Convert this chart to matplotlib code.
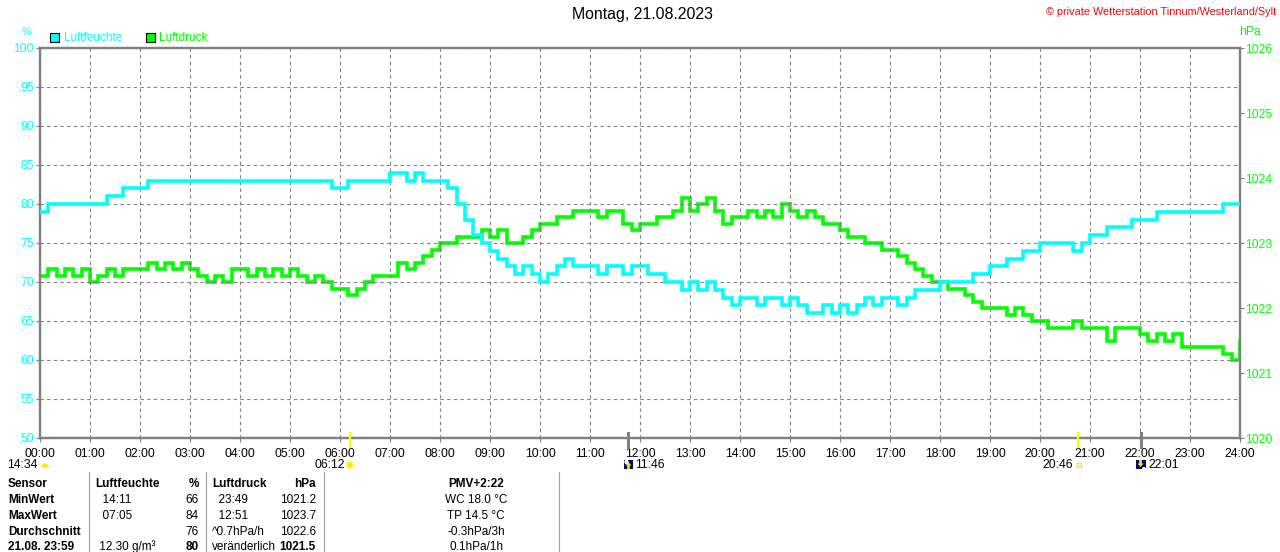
import numpy as np
import matplotlib
matplotlib.use('Agg')
import matplotlib.pyplot as plt
from matplotlib.patches import Rectangle, Circle, Wedge, Polygon

plt.rcParams['font.family'] = ['Liberation Sans', 'DejaVu Sans']

# ---------------- data ----------------
minutes = np.arange(0, 1441, 10)          # 10-minute time axis 00:00 .. 24:00
hours = minutes / 60.0

humidity = ([79] + [80]*7 + [81]*2 + [82]*3 + [83]*22 + [82, 82] + [83]*5 +
            [84, 84, 83, 84, 83, 83, 83] +
            [82, 80, 78, 76, 75, 74, 73, 72, 71, 72, 71] +
            [70, 71, 72, 73, 72, 72] +
            [72, 71, 72, 72, 71, 72] +
            [72, 71, 71, 70, 70, 69] +
            [70, 69, 70, 69, 68, 67] +
            [68, 68, 67, 68, 68, 67] +
            [68, 67, 66, 66, 67, 66] +
            [67, 66, 67, 68, 67, 68] +
            [68, 67, 68, 69, 69, 69] +
            [70, 70, 70, 70, 71, 71] +
            [72, 72, 73, 73, 74, 74] +
            [75, 75, 75, 75, 74, 75] +
            [76, 76, 77, 77, 77, 78] +
            [78, 78, 79, 79, 79, 79] +
            [79, 79, 79, 79, 80, 80, 80])

pressure = [1022.5, 1022.6, 1022.5, 1022.6, 1022.5, 1022.6,
            1022.4, 1022.5, 1022.6, 1022.5, 1022.6, 1022.6,
            1022.6, 1022.7, 1022.6, 1022.7, 1022.6, 1022.7,
            1022.6, 1022.5, 1022.4, 1022.5, 1022.4, 1022.6,
            1022.6, 1022.5, 1022.6, 1022.5, 1022.6, 1022.5,
            1022.6, 1022.5, 1022.4, 1022.5, 1022.4, 1022.3,
            1022.3, 1022.2, 1022.3, 1022.4, 1022.5, 1022.5,
            1022.5, 1022.7, 1022.6, 1022.7, 1022.8, 1022.9,
            1023.0, 1023.0, 1023.1, 1023.1, 1023.1, 1023.2,
            1023.1, 1023.2, 1023.0, 1023.0, 1023.1, 1023.2,
            1023.3, 1023.3, 1023.4, 1023.4, 1023.5, 1023.5,
            1023.5, 1023.4, 1023.5, 1023.5, 1023.3, 1023.2,
            1023.3, 1023.3, 1023.4, 1023.4, 1023.5, 1023.7,
            1023.5, 1023.6, 1023.7, 1023.5, 1023.3, 1023.4,
            1023.4, 1023.5, 1023.4, 1023.5, 1023.4, 1023.6,
            1023.5, 1023.4, 1023.5, 1023.4, 1023.3, 1023.3,
            1023.2, 1023.1, 1023.1, 1023.0, 1023.0, 1022.9,
            1022.9, 1022.8, 1022.7, 1022.6, 1022.5, 1022.4,
            1022.4, 1022.3, 1022.3, 1022.2, 1022.1, 1022.0,
            1022.0, 1022.0, 1021.9, 1022.0, 1021.9, 1021.8,
            1021.8, 1021.7, 1021.7, 1021.7, 1021.8, 1021.7,
            1021.7, 1021.7, 1021.5, 1021.7, 1021.7, 1021.7,
            1021.6, 1021.5, 1021.6, 1021.5, 1021.6, 1021.4,
            1021.4, 1021.4, 1021.4, 1021.4, 1021.3, 1021.2, 1021.5]

hour_labels = [f"{h:02d}:00" for h in range(25)]
hum_ticks = list(range(50, 101, 5))
pres_ticks = list(range(1020, 1027))

# astronomical events (time in hours)
event_times = [6 + 12/60, 11 + 46/60, 20 + 46/60, 22 + 1/60]
event_colors = ['#FFFF00', '#808080', '#FFFF00', '#808080']

title = "Montag, 21.08.2023"
copyright_text = "© private Wetterstation Tinnum/Westerland/Sylt"

table_rows = [
    ["Sensor", "Luftfeuchte", "%", "Luftdruck", "hPa", "PMV+2:22"],
    ["MinWert", "  14:11", "66", "  23:49", "1021.2", "WC 18.0 °C"],
    ["MaxWert", "  07:05", "84", "  12:51", "1023.7", "TP 14.5 °C"],
    ["Durchschnitt", "", "76", "^0.7hPa/h", "1022.6", "-0.3hPa/3h"],
    ["21.08. 23:59", " 12.30 g/m³", "80", "veränderlich", "1021.5", "0.1hPa/1h"],
]

# ---------------- figure ----------------
W, H = 1280, 552
fig = plt.figure(figsize=(W/100, H/100), dpi=100)
fig.patch.set_facecolor('white')

# overlay in pixel coords (y downward)
ov = fig.add_axes([0, 0, 1, 1], zorder=0)
ov.set_xlim(0, W)
ov.set_ylim(H, 0)
ov.axis('off')

CYAN = '#00FFFF'
GREEN = '#00FF00'
GRAY = '#808080'

left, right, top, bottom = 40, 1240, 48, 438
ax = fig.add_axes([left/W, 1 - bottom/H, (right-left)/W, (bottom-top)/H], zorder=2)
ax2 = ax.twinx()

ax.set_xlim(0, 24)
ax.set_ylim(50, 100)
ax2.set_ylim(1020, 1026)

ax.set_xticks(range(25))
ax.set_xticklabels(hour_labels)
ax.set_yticks(hum_ticks)
ax.set_yticklabels([str(v) for v in hum_ticks])
ax2.set_yticks(pres_ticks)
ax2.set_yticklabels([str(v) for v in pres_ticks])

ax.grid(True, color=GRAY, linestyle=(0, (3, 3)), linewidth=0.8)
ax.tick_params(axis='x', labelcolor='black', length=3, width=0.8, pad=4.5,
               labelsize=8.8, color=GRAY)
ax.tick_params(axis='y', length=3, width=0.8, pad=1.5, labelsize=8.8, color=GRAY, labelcolor=CYAN)
ax2.tick_params(axis='y', length=3, width=0.8, pad=1.0, labelsize=8.8, color=GRAY, labelcolor=GREEN)

for a in (ax, ax2):
    for s in a.spines.values():
        s.set_color(GRAY)
        s.set_linewidth(1.6)

# pressure on ax2, humidity drawn on top
ax2.plot(hours, pressure, color=GREEN, linewidth=2.6, drawstyle='steps-post',
         solid_joinstyle='miter', zorder=3)
ax.plot(hours, humidity, color=CYAN, linewidth=2.6, drawstyle='steps-post',
        solid_joinstyle='miter', zorder=3)
ax.set_zorder(ax2.get_zorder() + 1)
ax.patch.set_visible(False)
ax2.patch.set_facecolor('white')
ax2.set_zorder(1)

# event markers on the time axis
xt = ax.get_xaxis_transform()
for t, c in zip(event_times, event_colors):
    lw = 1.6 if c == '#FFFF00' else 2.2
    ax.plot([t, t], [5/390, -9/390], color=c, linewidth=lw, transform=xt, clip_on=False, zorder=5)

# ---------------- texts in pixel coordinates ----------------
ov.text(642, 15, title, ha='center', va='center', fontsize=11.4, color='black')
ov.text(1276, 12, copyright_text, ha='right', va='center', fontsize=7.8, color='#FF0000')
ov.text(27, 32, "%", ha='center', va='center', fontsize=8, color=CYAN)
ov.text(1250, 32, "hPa", ha='center', va='center', fontsize=8.8, color=GREEN)

# legend
ov.add_patch(Rectangle((50, 33), 9, 9, facecolor=CYAN, edgecolor='black', linewidth=0.8))
ov.text(64, 38, "Luftfeuchte", ha='left', va='center', fontsize=8.5, color=CYAN)
ov.add_patch(Rectangle((146, 33), 9, 9, facecolor=GREEN, edgecolor='black', linewidth=0.8))
ov.text(159, 38, "Luftdruck", ha='left', va='center', fontsize=8.5, color=GREEN)

# sun / moon row under the hour labels
yrow = 465
ov.text(38, yrow, "14:34", ha='right', va='center', fontsize=8.8)
ov.add_patch(Wedge((45, 467.5), 4, 180, 360, facecolor='#FFE800', edgecolor='none'))
ov.text(345, yrow, "06:12", ha='right', va='center', fontsize=8.8)
ov.add_patch(Circle((350, 465), 4.5, facecolor='#FFFFA0', edgecolor='none'))
ov.add_patch(Circle((350, 465), 3, facecolor='#FFE800', edgecolor='none'))
# noon icon
ov.add_patch(Rectangle((624, 460), 9, 9, facecolor='#000080', edgecolor='none'))
ov.add_patch(Circle((626.5, 462), 2.2, facecolor='white', edgecolor='none'))
ov.add_patch(Polygon([(628.5, 462), (631.5, 465.5), (629.8, 465.5), (629.8, 469), (627.2, 469),
                      (627.2, 465.5), (625.5, 465.5)], closed=True, facecolor='#FFE800', edgecolor='none'))
ov.text(635, yrow, "11:46", ha='left', va='center', fontsize=8.8)
ov.text(1073, yrow, "20:46", ha='right', va='center', fontsize=8.8)
ov.add_patch(Rectangle((1076.5, 462.5), 4.5, 4.5, facecolor='none', edgecolor='#FFE800', linewidth=1))
# 22:01 icon
ov.add_patch(Rectangle((1136, 460), 10, 9, facecolor='#000080', edgecolor='none'))
ov.add_patch(Polygon([(1140.5, 467), (1143.5, 463.5), (1141.8, 463.5), (1141.8, 460), (1139.2, 460),
                      (1139.2, 463.5), (1137.5, 463.5)], closed=True, facecolor='#FFE800', edgecolor='none'))
ov.add_patch(Circle((1144, 469), 2, facecolor='white', edgecolor='none'))
ov.text(1148, yrow, "22:01", ha='left', va='center', fontsize=8.8)

# ---------------- statistics table ----------------
for xs in (88.5, 205.5, 323.5, 558.5):
    ov.plot([xs, xs], [472, 552], color='#A0A0A0', linewidth=0.8)

row_y = [484, 500, 516, 532, 546.5]
for r, (row, y) in enumerate(zip(table_rows, row_y)):
    header = (r == 0)
    ov.text(8, y, row[0], ha='left', va='center', fontsize=8.5, fontweight='bold')
    ov.text(95 if header else 96, y, row[1], ha='left', va='center', fontsize=8.5,
            fontweight='bold' if header else 'normal')
    ov.text(199, y, row[2], ha='right', va='center', fontsize=8.5,
            fontweight='bold' if (header or r == 4) else 'normal')
    ov.text(212, y, row[3], ha='left', va='center', fontsize=8.5,
            fontweight='bold' if header else 'normal')
    ov.text(316, y, row[4], ha='right', va='center', fontsize=8.5,
            fontweight='bold' if (header or r == 4) else 'normal')
    ov.text(476, y, row[5], ha='center', va='center', fontsize=8.5,
            fontweight='bold' if header else 'normal')

fig.savefig('out.png', dpi=100, facecolor='white')
